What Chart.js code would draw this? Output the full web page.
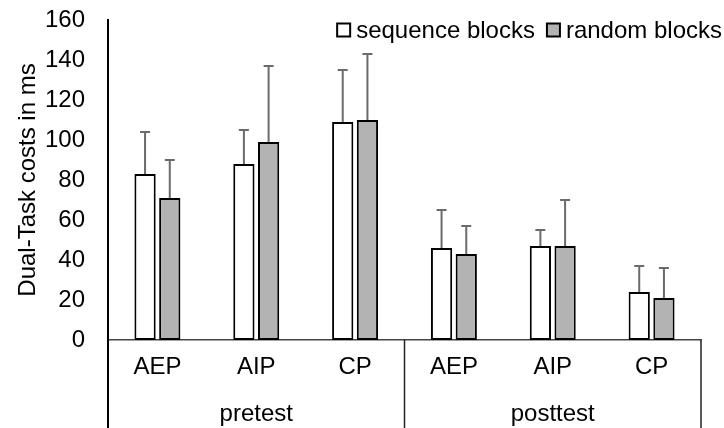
<!DOCTYPE html>
<html>
<head>
<meta charset="utf-8">
<script src="https://cdn.jsdelivr.net/npm/chart.js@4/dist/chart.umd.min.js"></script>
<style>
  html, body { margin: 0; padding: 0; background: #fff; }
  #wrap { width: 724px; height: 428px; }
</style>
</head>
<body>
<div id="wrap"><canvas id="dualTaskChart"></canvas></div>
<script>
// Test phases and training groups
const phases = ['pretest', 'posttest'];
const groups = ['AEP', 'AIP', 'CP'];
const categories = ['AEP', 'AIP', 'CP', 'AEP', 'AIP', 'CP'];

// Dual-task costs (ms): means and upper error bars
const sequenceMeans = [83, 88, 109, 46, 47, 24];
const sequenceErrors = [21, 17, 26, 19, 8, 13];
const randomMeans = [71, 99, 110, 43, 47, 21];
const randomErrors = [19, 38, 33, 14, 23, 15];

const FONT = 'Arial, "Liberation Sans", sans-serif';
const fontSize = 24;

// Upward error bars with a cap
const errorBars = {
    id: 'errorBars',
    afterDatasetsDraw(chart) {
        const ctx = chart.ctx;
        const y = chart.scales.y;
        ctx.save();
        ctx.strokeStyle = '#6b6b6b';
        ctx.lineWidth = 2;
        chart.data.datasets.forEach((ds, i) => {
            const meta = chart.getDatasetMeta(i);
            meta.data.forEach((bar, j) => {
                const top = y.getPixelForValue(ds.data[j] + ds.errors[j]);
                ctx.beginPath();
                ctx.moveTo(bar.x, bar.y);
                ctx.lineTo(bar.x, top);
                ctx.moveTo(bar.x - 5, top);
                ctx.lineTo(bar.x + 5, top);
                ctx.stroke();
            });
        });
        ctx.restore();
    }
};

// Phase labels, separators, axis extension and legend
const decorations = {
    id: 'decorations',
    afterDraw(chart) {
        const ctx = chart.ctx;
        const x = chart.scales.x;
        const area = chart.chartArea;
        const bottom = chart.height;
        ctx.save();

        // y axis runs down through the category rows
        ctx.strokeStyle = '#000';
        ctx.lineWidth = 2;
        ctx.beginPath();
        ctx.moveTo(area.left, area.bottom);
        ctx.lineTo(area.left, bottom);
        ctx.stroke();

        // separators between the two phases
        ctx.strokeStyle = '#222';
        ctx.lineWidth = 1.5;
        const mid = (x.getPixelForTick(2) + x.getPixelForTick(3)) / 2;
        [mid, area.right].forEach(px => {
            ctx.beginPath();
            ctx.moveTo(px, area.bottom);
            ctx.lineTo(px, bottom);
            ctx.stroke();
        });

        // phase names below the groups
        ctx.fillStyle = '#000';
        ctx.font = fontSize + 'px ' + FONT;
        ctx.textAlign = 'center';
        ctx.textBaseline = 'middle';
        phases.forEach((p, k) => {
            const first = x.getPixelForTick(k * groups.length);
            const last = x.getPixelForTick(k * groups.length + groups.length - 1);
            ctx.fillText(p, (first + last) / 2, 414);
        });

        // legend, right aligned at the top
        const box = 13;
        const gap = 6;
        const spacing = 12;
        ctx.textAlign = 'left';
        const items = chart.data.datasets.map(ds => ({
            label: ds.label,
            color: ds.backgroundColor,
            w: ctx.measureText(ds.label).width
        }));
        let total = 0;
        items.forEach((it, k) => { total += box + gap + it.w + (k ? spacing : 0); });
        let lx = 722 - total;
        const ly = 30;
        items.forEach(it => {
            ctx.fillStyle = it.color;
            ctx.fillRect(lx, ly - box / 2, box, box);
            ctx.strokeStyle = '#000';
            ctx.lineWidth = 2;
            ctx.strokeRect(lx, ly - box / 2, box, box);
            ctx.fillStyle = '#000';
            ctx.fillText(it.label, lx + box + gap, ly + 1);
            lx += box + gap + it.w + spacing;
        });
        ctx.restore();
    }
};

new Chart(document.getElementById('dualTaskChart').getContext('2d'), {
    type: 'bar',
    data: {
        labels: categories,
        datasets: [
            {
                label: 'sequence blocks',
                data: sequenceMeans,
                errors: sequenceErrors,
                backgroundColor: '#ffffff',
                borderColor: '#000000',
                borderWidth: 2,
                borderSkipped: false,
                categoryPercentage: 0.5,
                barPercentage: 0.86
            },
            {
                label: 'random blocks',
                data: randomMeans,
                errors: randomErrors,
                backgroundColor: '#b3b3b3',
                borderColor: '#000000',
                borderWidth: 2,
                borderSkipped: false,
                categoryPercentage: 0.5,
                barPercentage: 0.86
            }
        ]
    },
    options: {
        responsive: true,
        maintainAspectRatio: false,
        animation: false,
        layout: { padding: { top: 20, right: 23, left: 0, bottom: 0 } },
        plugins: {
            legend: { display: false },
            tooltip: { enabled: false }
        },
        scales: {
            x: {
                grid: { display: false, drawTicks: false },
                border: { color: '#444', width: 1.5 },
                ticks: {
                    color: '#000',
                    font: { family: FONT, size: fontSize },
                    padding: 13,
                    maxRotation: 0,
                    autoSkip: false
                },
                afterFit(scale) { scale.height = 88; }
            },
            y: {
                min: 0,
                max: 160,
                grid: { display: false, drawTicks: false },
                border: { color: '#000', width: 2 },
                ticks: {
                    stepSize: 20,
                    color: '#000',
                    font: { family: FONT, size: fontSize },
                    padding: 23
                },
                title: {
                    display: true,
                    text: 'Dual-Task costs in ms',
                    color: '#000',
                    font: { family: FONT, size: fontSize },
                    padding: { top: 14, bottom: 0 }
                },
                afterFit(scale) {
                    scale.width = 108;
                    scale.paddingTop = 0;
                }
            }
        }
    },
    plugins: [errorBars, decorations]
});
</script>
</body>
</html>
